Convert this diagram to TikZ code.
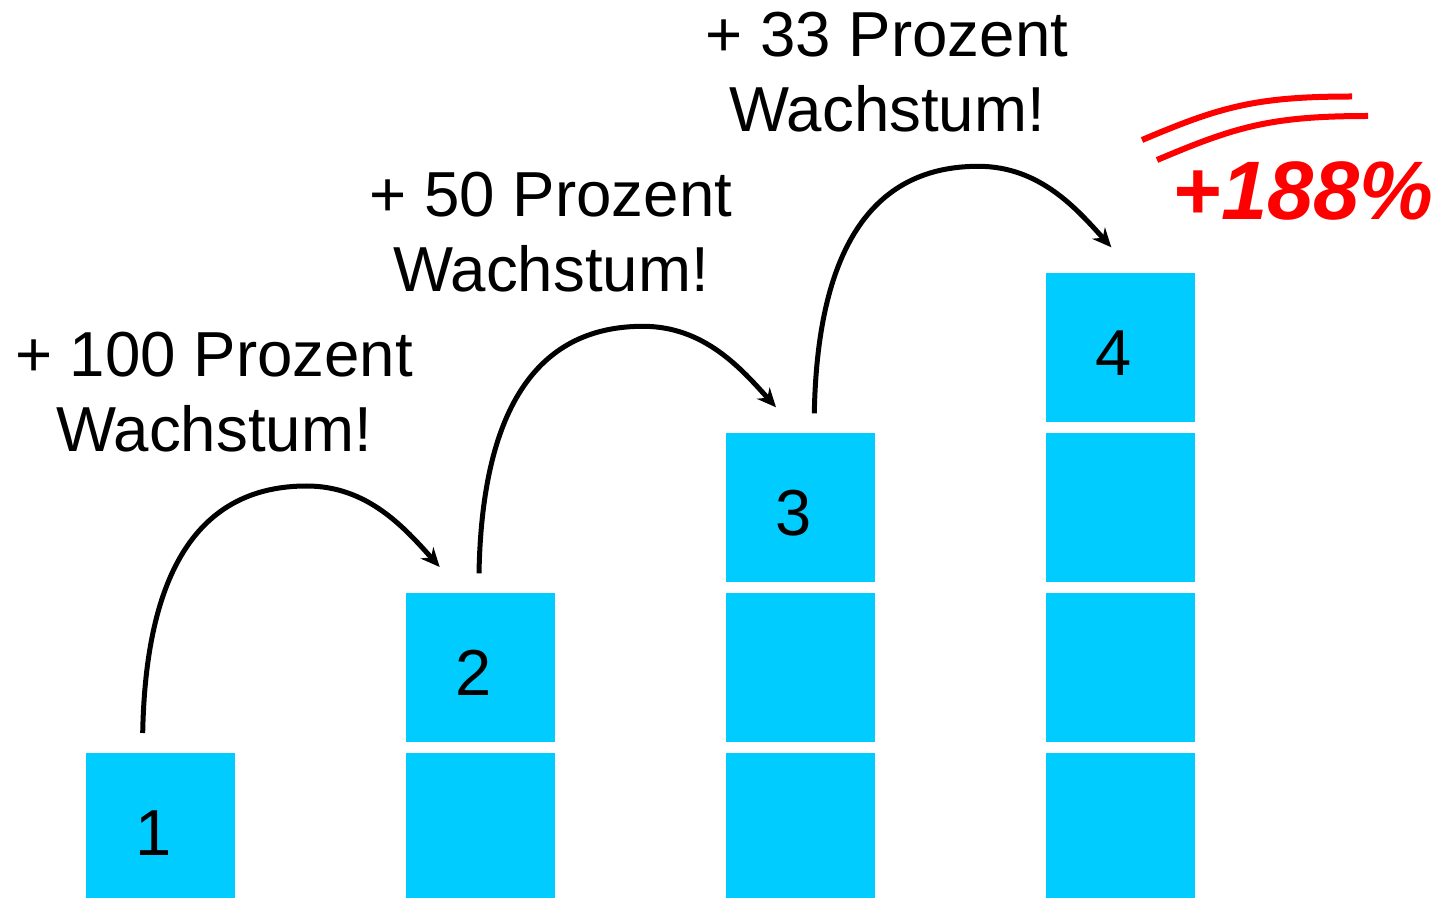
\documentclass[tikz,border=0pt]{standalone}
\usepackage{fontspec}
\setmainfont{Liberation Sans}
\usetikzlibrary{arrows.meta,calc}
\definecolor{boxblue}{HTML}{00CCFF}
\definecolor{hotred}{HTML}{FF0000}
\begin{document}
\begin{tikzpicture}[x=0.5pt,y=-0.5pt,
  blk/.style={fill=boxblue,draw=none,inner sep=0pt,minimum width=74.5pt,minimum height=74.5pt},
  blkcut/.style={blk,minimum height=72.5pt},
  num/.style={anchor=base,inner sep=0pt,font=\fontsize{32.5}{39}\selectfont},
  growlabel/.style={anchor=base,inner sep=0pt,align=center,font=\fontsize{31.8}{37.5}\selectfont},
  jump/.style={line width=2.5pt,-{Stealth[length=9.5pt,width=8.5pt]}},
  swoosh/.style={draw=hotred,line width=3pt}]
\useasboundingbox (0,0) rectangle (1442,898);
% column 1
\node[blkcut] (b1) at (160.5,825.5) {};
% column 2
\node[blkcut] (c2a) at (480.5,825.5) {};
\node[blk] (b2) at (480.5,667.5) {};
% column 3
\node[blkcut] (c3a) at (800.5,825.5) {};
\node[blk] (c3b) at (800.5,667.5) {};
\node[blk] (b3) at (800.5,507.5) {};
% column 4
\node[blkcut] (c4a) at (1120.5,825.5) {};
\node[blk] (c4b) at (1120.5,667.5) {};
\node[blk] (c4c) at (1120.5,507.5) {};
\node[blk] (b4) at (1120.5,347.5) {};
% numbers
\node[num] (n1) at ($(b1.north)+(-6.5,103)$) {1};
\node[num] (n2) at ($(b2.north)+(-6.5,103)$) {2};
\node[num] (n3) at ($(b3.north)+(-6.5,103)$) {3};
\node[num] (n4) at ($(b4.north)+(-6.5,103)$) {4};
% labels (base = baseline of last line)
\node[growlabel] (l1) at (214,451.7) {+ 100 Prozent\\Wachstum!};
\node[growlabel] (l2) at (551,291.7) {+ 50 Prozent\\Wachstum!};
\node[growlabel] (l3) at (887,131.7) {+ 33 Prozent\\Wachstum!};
% arrows
\coordinate (s1) at (142.7,733);
\coordinate (t1) at (439.7,567);
\coordinate (s2) at (479,573.3);
\coordinate (t2) at (776,407.3);
\coordinate (s3) at (814.3,413.3);
\coordinate (t3) at (1111.3,247.3);
\draw[jump] (s1) .. controls (145.7,573) and (197.7,486) .. (306.7,486)
  .. controls (367.7,486) and (404.7,528) .. (t1);
\draw[jump] (s2) .. controls (482,413.3) and (534,326.3) .. (643,326.3)
  .. controls (704,326.3) and (741,368.3) .. (t2);
\draw[jump] (s3) .. controls (817.3,253.3) and (869.3,166.3) .. (978.3,166.3)
  .. controls (1039.3,166.3) and (1076.3,208.3) .. (t3);
% red total
\node[anchor=base,inner sep=0pt,text=hotred,font=\fontsize{41.5}{50}\selectfont\bfseries\itshape] (tot) at (1303,220) {+188\%};
\coordinate (w1a) at (1142,140);
\coordinate (w1b) at (1352,96.5);
\coordinate (w2a) at (1157,160);
\coordinate (w2b) at (1368,116);
\draw[swoosh] (w1a) .. controls (1220,107) and (1255,96.5) .. (w1b);
\draw[swoosh] (w2a) .. controls (1235,127) and (1270,116) .. (w2b);
\end{tikzpicture}
\end{document}
